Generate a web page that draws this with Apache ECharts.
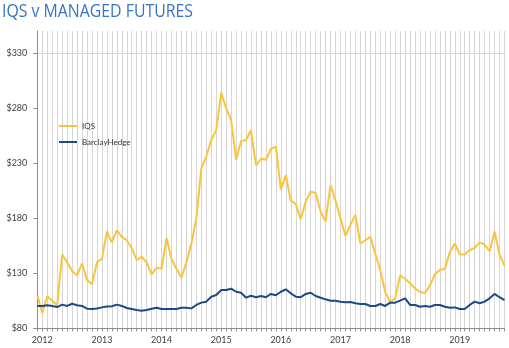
<!DOCTYPE html>
<html>
<head>
<meta charset="utf-8">
<style>
  html, body { margin: 0; padding: 0; background: #ffffff; }
  #chart { width: 509px; height: 348px; }
</style>
<script src="https://cdn.jsdelivr.net/npm/echarts@6/dist/echarts.min.js"></script>
</head>
<body>
<div id="chart"></div>
<script>
// Monthly index levels, Dec 2011 through Oct 2019
const startYear = 2011;
const startMonth = 12;
const monthCount = 95;

const iqs = [
  110, 94, 109, 105, 101, 147, 140, 132, 128, 139, 124, 120,
  140, 143, 168, 158, 169, 163, 160, 153, 142, 145, 140, 129,
  135, 134, 162, 143, 134, 126, 140, 157, 180, 225, 236, 251,
  260, 294, 280, 269, 233, 250, 251, 260, 228, 234, 233, 243,
  245, 206, 219, 196, 193, 179, 195, 204, 203, 186, 177, 210,
  196, 180, 164, 174, 183, 157, 160, 163, 148, 133, 113, 104,
  107, 128, 125, 121, 116, 113, 112, 119, 129, 133, 134, 149,
  157, 147, 147, 151, 153, 158, 156, 150, 168, 147, 137
];

const barclayHedge = [
  100.3, 100.3, 100.9, 100.3, 99.3, 101.5, 100.3, 102.3, 100.9, 100.3, 97.8, 97.5,
  98.0, 99.0, 99.7, 100.0, 101.5, 100.3, 98.4, 97.5, 96.6, 96.0, 96.6, 97.8,
  98.7, 97.5, 97.5, 97.5, 97.5, 98.7, 98.7, 98.1, 101.2, 103.3, 104.2, 108.7,
  110.2, 114.8, 114.8, 116.0, 113.2, 112.3, 107.8, 109.6, 108.2, 109.3, 108.2, 111.2,
  110.0, 113.2, 115.4, 111.8, 108.7, 108.2, 111.2, 112.3, 109.3, 107.8, 106.3, 105.1,
  105.1, 104.2, 103.6, 103.9, 102.7, 102.1, 102.1, 100.3, 100.3, 102.1, 100.3, 103.3,
  103.3, 105.1, 107.2, 101.2, 101.2, 99.6, 100.2, 99.6, 101.2, 101.2, 99.6, 98.7,
  99.0, 97.5, 97.5, 101.2, 104.2, 102.7, 104.2, 107.2, 111.2, 108.2, 105.7
];

const yTickValues = [80, 130, 180, 230, 280, 330];

// Month categories "YYYY-MM"
const months = [];
for (let k = 0; k < monthCount; k++) {
  const m0 = startMonth - 1 + k;
  const y = startYear + Math.floor(m0 / 12);
  const m = (m0 % 12) + 1;
  months.push(y + '-' + (m < 10 ? '0' + m : '' + m));
}

const labelFont = 'Lato, "Open Sans", sans-serif';
const gridGray = '#d6d6d6';
const axisGray = '#8c8c8c';

const chart = echarts.init(document.getElementById('chart'), null, { renderer: 'canvas' });

chart.setOption({
  animation: false,
  backgroundColor: '#ffffff',
  graphic: [{
    type: 'text',
    x: 2,
    y: 3,
    scaleX: 0.88,
    style: {
      text: 'IQS v MANAGED FUTURES',
      fill: '#3674c3',
      font: '18px "Open Sans", sans-serif',
      textVerticalAlign: 'top'
    }
  }],
  grid: { left: 37.3, right: 4.5, top: 31, bottom: 19.7, containLabel: false },
  legend: {
    orient: 'vertical',
    left: 59,
    top: 122,
    padding: 0,
    itemGap: 8,
    itemWidth: 18,
    itemHeight: 2,
    icon: 'rect',
    textStyle: { fontSize: 8, color: '#333333', fontFamily: labelFont },
    data: ['IQS', 'BarclayHedge']
  },
  xAxis: {
    type: 'category',
    data: months,
    boundaryGap: false,
    axisLine: { show: true, lineStyle: { color: axisGray, width: 1 } },
    axisTick: { show: true, interval: 0, length: 3, lineStyle: { color: axisGray } },
    splitLine: { show: true, interval: 0, lineStyle: { color: gridGray, width: 1 } },
    axisLabel: {
      interval: function (index, value) { return value.slice(5) === '01'; },
      formatter: function (value) { return value.slice(0, 4); },
      fontSize: 9,
      color: '#404040',
      fontFamily: labelFont,
      margin: 7
    }
  },
  yAxis: {
    type: 'value',
    min: 80,
    max: 350,
    interval: 10,
    axisLine: { show: true, lineStyle: { color: axisGray, width: 1 } },
    axisTick: { show: true, length: 4, customValues: yTickValues, lineStyle: { color: axisGray } },
    splitLine: {
      show: true,
      lineStyle: { color: [gridGray, 'rgba(0,0,0,0)', 'rgba(0,0,0,0)', 'rgba(0,0,0,0)', 'rgba(0,0,0,0)'], width: 1 }
    },
    axisLabel: {
      customValues: yTickValues,
      formatter: function (v) { return yTickValues.indexOf(v) >= 0 ? '$' + v : ''; },
      fontSize: 9,
      color: '#404040',
      fontFamily: labelFont,
      margin: 10
    }
  },
  series: [
    {
      name: 'IQS',
      type: 'line',
      data: iqs,
      showSymbol: false,
      symbol: 'none',
      lineStyle: { color: '#fbc43c', width: 2 },
      itemStyle: { color: '#fbc43c' },
      z: 3
    },
    {
      name: 'BarclayHedge',
      type: 'line',
      data: barclayHedge,
      showSymbol: false,
      symbol: 'none',
      lineStyle: { color: '#1c4a86', width: 2 },
      itemStyle: { color: '#1c4a86' },
      z: 4
    }
  ]
});
</script>
</body>
</html>
